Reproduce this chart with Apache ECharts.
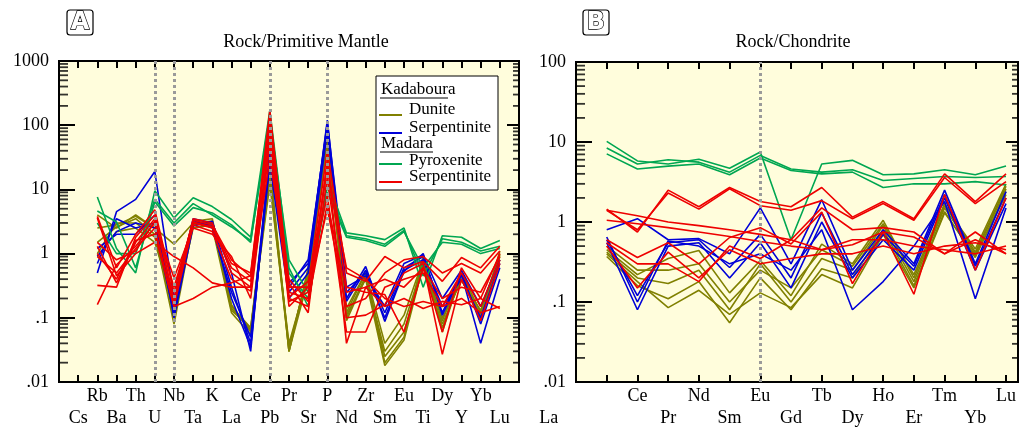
<!DOCTYPE html>
<html><head><meta charset="utf-8">
<script src="https://cdn.jsdelivr.net/npm/echarts@6/dist/echarts.min.js"></script>
<style>html,body{margin:0;padding:0;background:#fff}#c{width:1027px;height:429px}</style>
</head><body><div id="c"></div>
<script>
// ---------- categories & tick labels ----------
const pmElements = ['Cs','Rb','Ba','Th','U','Nb','Ta','K','La','Ce','Pb','Pr','Sr','P','Nd','Zr','Sm','Eu','Ti','Dy','Y','Yb','Lu'];
const reeElements = ['La','Ce','Pr','Nd','Sm','Eu','Gd','Tb','Dy','Ho','Er','Tm','Yb','Lu'];
const pmTickLabels = ['.01','.1','1','10','100','1000'];
const reeTickLabels = ['.01','.1','1','10','100'];
const pmDashed = ['U','Nb','Pb','P'];
const reeDashed = ['Eu'];

// ---------- Panel A: Rock / Primitive Mantle ----------
const pmDunite = [
  [null,4.0,2.5,4.0,2.5,0.10,3.0,3.2,0.15,0.07,20,0.03,0.6,60,0.12,0.5,0.04,0.11,0.8,0.09,0.5,0.12,1.0],
  [null,1.5,2.6,3.5,2.0,0.08,2.8,3.0,0.14,0.065,18,0.035,0.5,55,0.10,0.45,0.03,0.08,0.7,0.07,0.45,0.10,0.9],
  [null,1.0,3.0,3.0,1.8,0.12,2.5,2.8,0.16,0.06,15,0.03,0.4,50,0.09,0.42,0.025,0.06,0.6,0.08,0.4,0.11,0.8],
  [null,0.9,2.2,2.5,1.5,0.15,3.2,3.5,0.13,0.07,12,0.04,0.45,45,0.14,0.5,0.02,0.05,0.9,0.06,0.5,0.09,1.1],
  [null,2.5,2.8,3.8,2.5,1.4,3.0,2.6,0.12,0.055,25,0.03,0.55,65,0.11,0.4,0.018,0.045,0.65,0.1,0.38,0.13,0.95]
];
const pmKadSerp = [
  [null,0.5,4.5,7.0,19,0.2,3.5,3.0,0.5,0.03,40,0.25,0.6,120,0.2,0.63,0.088,0.53,1.0,0.11,0.47,0.04,0.4],
  [null,0.7,3.5,2.5,3.0,0.15,3.0,2.8,0.2,0.035,30,0.3,0.8,100,0.18,0.55,0.12,0.6,0.9,0.12,0.5,0.08,0.6],
  [null,1.2,2.0,2.0,4.0,0.1,2.7,3.2,0.3,0.04,25,0.2,0.5,80,0.25,0.5,0.1,0.55,0.8,0.15,0.4,0.1,0.7],
  [null,0.9,2.2,3.0,2.5,0.12,3.3,2.5,0.25,0.05,35,0.35,0.7,110,0.3,0.45,0.15,0.7,0.95,0.2,0.55,0.15,0.8]
];
const pmPyroxenite = [
  [null,7.6,1.2,0.5,9.5,3.6,7.4,5.4,3.4,1.8,170,0.6,0.15,14,2.1,1.9,1.65,2.5,0.3,1.9,1.8,1.2,1.6],
  [null,4.6,3.1,0.6,6.4,2.7,5.2,4.3,2.8,1.5,150,0.5,0.2,11,1.9,1.7,1.4,2.3,0.45,1.7,1.5,1.1,1.3],
  [null,3.0,1.0,1.0,7.0,3.0,6.0,4.0,2.6,1.6,120,0.8,0.25,9,1.8,1.6,1.3,2.2,0.6,1.5,1.4,1.0,1.2]
];
const pmMadSerp = [
  [null,3.8,0.6,2.0,4.8,0.25,3.3,2.8,0.8,0.44,170,0.3,0.3,40,0.5,0.37,0.9,0.6,0.75,0.37,0.87,0.6,1.3],
  [null,1.3,0.35,1.5,3.5,0.2,3.0,2.5,0.6,0.37,120,0.25,0.2,25,0.3,0.25,0.23,0.06,0.6,0.06,0.6,0.2,1.0],
  [null,0.9,0.5,1.2,2.5,0.15,2.8,2.2,0.4,0.26,80,0.2,0.15,15,0.1,0.11,0.16,0.5,0.7,0.027,0.4,0.09,0.7],
  [null,0.32,0.3,1.8,4.0,0.17,3.5,3.0,0.5,0.3,60,0.21,0.37,8,0.06,0.06,0.3,0.4,0.5,0.15,0.5,0.15,0.8],
  [null,0.16,0.67,1.3,3.0,0.42,2.5,2.0,0.9,0.2,50,0.18,0.25,5,0.15,0.2,0.5,0.8,0.9,0.5,0.7,0.5,1.1],
  [null,3.6,0.45,1.0,1.5,0.9,0.6,0.35,0.3,0.3,30,0.4,0.18,6,0.25,0.3,0.15,0.2,0.14,0.18,0.16,0.2,0.14],
  [null,1.0,0.4,1.6,2.0,0.15,0.2,0.3,0.35,0.45,100,0.15,0.3,20,0.6,0.4,0.2,0.15,0.18,0.15,0.2,0.12,0.15],
  [null,1.5,0.8,1.1,3.2,0.3,3.1,2.6,0.7,0.5,140,0.35,0.12,30,0.04,0.3,0.4,0.3,0.6,0.2,0.3,0.25,0.9]
];

// ---------- Panel B: Rock / Chondrite ----------
const reeDunite = [
  [0.45,0.22,0.35,0.44,0.13,0.33,0.12,0.53,0.3,1.05,0.2,1.6,0.46,3.0],
  [0.42,0.2,0.17,0.25,0.08,0.3,0.1,0.35,0.25,0.9,0.18,1.5,0.4,2.6],
  [0.37,0.16,0.11,0.18,0.055,0.2,0.08,0.26,0.2,0.8,0.16,1.35,0.36,2.4],
  [0.4,0.18,0.085,0.14,0.07,0.13,0.085,0.22,0.15,0.7,0.15,1.3,0.38,2.2],
  [0.5,0.25,0.25,0.3,0.1,0.25,0.15,0.45,0.28,0.95,0.22,1.7,0.42,2.8]
];
const reeKadSerp = [
  [0.8,1.1,0.6,0.62,0.4,1.5,0.3,1.9,0.25,0.8,0.3,2.5,0.3,2.4],
  [0.6,0.12,0.55,0.6,0.27,0.7,0.2,1.3,0.22,0.7,0.28,2.2,0.28,2.0],
  [0.55,0.08,0.5,0.55,0.2,0.55,0.15,1.0,0.2,0.6,0.25,2.0,0.25,1.7],
  [0.65,0.1,0.58,0.5,0.3,0.4,0.25,0.8,0.08,0.18,0.5,1.8,0.11,1.5]
];
const reePyroxenite = [
  [10.2,5.8,5.3,6.1,4.7,7.5,0.6,5.3,5.9,3.9,4.0,4.5,3.9,5.0],
  [8.4,5.3,6.0,5.6,4.2,6.8,4.6,4.2,4.5,3.3,3.5,3.7,3.6,3.7],
  [7.1,4.6,5.0,5.3,3.9,6.3,4.4,4.0,4.2,2.7,3.0,3.0,3.2,2.9]
];
const reeMadSerp = [
  [1.45,0.75,2.5,1.55,2.7,1.8,1.55,2.7,1.15,1.8,1.1,4.0,1.8,4.0],
  [1.4,0.8,2.3,1.45,2.6,1.6,1.4,1.85,1.1,1.7,1.05,3.6,1.7,3.2],
  [1.4,1.2,1.0,0.9,0.8,0.7,0.6,1.5,0.8,0.85,0.75,0.4,0.75,0.4],
  [1.05,0.95,0.85,0.75,0.66,0.57,0.5,0.45,0.52,0.75,0.65,0.4,0.6,0.4],
  [0.6,0.36,0.55,0.3,0.64,0.85,0.53,1.33,0.17,0.75,0.125,2.2,0.25,2.0],
  [0.5,0.15,0.42,0.2,0.45,0.3,0.35,0.4,0.4,0.5,0.4,0.5,0.55,0.45],
  [0.55,0.3,0.3,0.18,0.5,0.35,0.6,0.45,0.6,0.6,0.5,0.45,0.4,0.5]
];

// ---------- styling ----------
const C = {dunite:'#808000', kad:'#0000d8', pyx:'#00a651', mad:'#ee0000'};
const BG = '#fffddc';
const SERIF = '"Liberation Serif","DejaVu Serif",serif';
const X_MAX = [23, 13.39];

const chart = echarts.init(document.getElementById('c'), null, {renderer:'canvas'});

function lines(rows, color, g, z){
  return rows.map(r => ({
    type:'line', xAxisIndex:g*2, yAxisIndex:g*2, symbol:'none', silent:true, animation:false, z:z,
    lineStyle:{color:color, width:1.6},
    data: r.map((v,i) => v == null ? null : [i, v]).filter(Boolean)
  }));
}
function minorValues(lo, hi){
  const out = [];
  for (let k = lo; k < hi; k++) for (let m = 2; m <= 9; m++) out.push(+(m*Math.pow(10,k)).toPrecision(3));
  return out;
}
function minorSeries(g, lo, hi){
  const vals = minorValues(lo, hi);
  const base = {type:'scatter', xAxisIndex:g*2, yAxisIndex:g*2, silent:true, animation:false, z:6,
    symbol:'rect', itemStyle:{color:'#000'}, clip:false};
  return [
    Object.assign({}, base, {symbolSize:[9,1.8], symbolOffset:[4.5,0], data: vals.map(v => [-1, v])}),
    Object.assign({}, base, {symbolSize:[6,1.8], symbolOffset:[-3,0], data: vals.map(v => [X_MAX[g], v])})
  ];
}
function dashSeries(g, names, cats){
  return {
    type:'line', xAxisIndex:g*2, yAxisIndex:g*2, data:[], silent:true, animation:false, z:1,
    markLine:{symbol:['none','none'], silent:true, animation:false, label:{show:false},
      lineStyle:{color:'#9a9a9a', width:3, type:[3,3]},
      data: names.map(n => ({xAxis: cats.indexOf(n)}))}
  };
}
function xAx(grid, pos, cats, max, labels, specialFirst){
  return {
    type:'value', gridIndex:grid, position:pos, min:-1, max:max, interval:1,
    axisLine:{show:false, onZero:false}, splitLine:{show:false},
    axisTick:{show:true, inside:true, length:7, lineStyle:{color:'#000', width:2}},
    axisLabel:{show:labels, margin:3, color:'#000', fontFamily:SERIF, fontSize:18, lineHeight:22,
      showMinLabel:true, showMaxLabel:true,
      formatter: function(v){
        const i = Math.round(v);
        if (Math.abs(v - i) > 1e-6 || i < 0 || i >= cats.length) return '';
        if (i % 2 === 1) return cats[i];
        if (specialFirst && i === 0) return '\n{shift|' + cats[i] + '}';
        return '\n' + cats[i];
      },
      rich:{shift:{fontFamily:SERIF, fontSize:18, lineHeight:22, color:'#000', padding:[0,116,0,0]}}
    }
  };
}
function yAx(grid, pos, lo, hi, tickLabels, labels){
  return {
    type:'log', logBase:10, gridIndex:grid, position:pos, min:Math.pow(10,lo), max:Math.pow(10,hi),
    axisLine:{show:false, onZero:false}, splitLine:{show:false}, minorTick:{show:false},
    axisTick:{show:true, inside:true, length: pos === 'left' ? 16 : 12, lineStyle:{color:'#000', width:2}},
    axisLabel:{show:labels, margin:10, color:'#000', fontFamily:SERIF, fontSize:18,
      formatter: function(v){
        const k = Math.round(Math.log10(v)) - lo;
        return tickLabels[k] !== undefined ? tickLabels[k] : '';
      }
    }
  };
}

const legendItems = [
  {y:115, color:C.dunite, text:'Dunite', ty:110},
  {y:133, color:C.kad, text:'Serpentinite', ty:128},
  {y:164, color:C.pyx, text:'Pyroxenite', ty:161},
  {y:182, color:C.mad, text:'Serpentinite', ty:177}
];
const graphics = [
  {type:'text', x:306, y:42, style:{text:'Rock/Primitive Mantle', font:'18px '+SERIF, fill:'#000', align:'center', verticalAlign:'middle'}},
  {type:'text', x:793, y:42, style:{text:'Rock/Chondrite', font:'18px '+SERIF, fill:'#000', align:'center', verticalAlign:'middle'}},
  {type:'rect', shape:{x:67, y:10, width:26, height:25, r:3}, style:{fill:'none', stroke:'#000', lineWidth:1.2}},
  {type:'text', x:80, y:23, style:{text:'A', font:'bold 24px "DejaVu Sans",sans-serif', fill:'#fff', stroke:'#000', lineWidth:1.3, align:'center', verticalAlign:'middle'}},
  {type:'rect', shape:{x:583, y:10, width:26, height:25, r:3}, style:{fill:'none', stroke:'#000', lineWidth:1.2}},
  {type:'text', x:596, y:23, style:{text:'B', font:'bold 24px "DejaVu Sans",sans-serif', fill:'#fff', stroke:'#000', lineWidth:1.3, align:'center', verticalAlign:'middle'}},
  {type:'rect', z:50, shape:{x:376, y:76, width:122, height:114}, style:{fill:'#fff', stroke:'#000', lineWidth:1}},
  {type:'text', z:51, x:381, y:90, style:{text:'Kadaboura', font:'17px '+SERIF, fill:'#000', verticalAlign:'middle'}},
  {type:'line', z:51, shape:{x1:380, y1:98, x2:448, y2:98}, style:{stroke:'#000', lineWidth:1}},
  {type:'text', z:51, x:381, y:144, style:{text:'Madara', font:'17px '+SERIF, fill:'#000', verticalAlign:'middle'}},
  {type:'line', z:51, shape:{x1:380, y1:152, x2:433, y2:152}, style:{stroke:'#000', lineWidth:1}}
];
legendItems.forEach(it => {
  graphics.push({type:'line', z:51, shape:{x1:379, y1:it.y, x2:402, y2:it.y}, style:{stroke:it.color, lineWidth:2}});
  graphics.push({type:'text', z:51, x:409, y:it.ty, style:{text:it.text, font:'17px '+SERIF, fill:'#000', verticalAlign:'middle'}});
});

const series = [].concat(
  dashSeries(0, pmDashed, pmElements),
  lines(pmDunite, C.dunite, 0, 2),
  lines(pmKadSerp, C.kad, 0, 3),
  lines(pmPyroxenite, C.pyx, 0, 3),
  lines(pmMadSerp, C.mad, 0, 4),
  minorSeries(0, -2, 3),
  dashSeries(1, reeDashed, reeElements),
  lines(reeDunite, C.dunite, 1, 2),
  lines(reeKadSerp, C.kad, 1, 3),
  lines(reePyroxenite, C.pyx, 1, 3),
  lines(reeMadSerp, C.mad, 1, 4),
  minorSeries(1, -2, 2)
);

chart.setOption({
  animation:false,
  backgroundColor:'#fff',
  grid:[
    {left:59, top:61, width:460, height:323, show:true, backgroundColor:BG, borderColor:'#000', borderWidth:2},
    {left:576, top:62, width:442, height:320, show:true, backgroundColor:BG, borderColor:'#000', borderWidth:2}
  ],
  xAxis:[
    xAx(0,'bottom',pmElements,X_MAX[0],true,false),
    xAx(0,'top',pmElements,X_MAX[0],false,false),
    xAx(1,'bottom',reeElements,X_MAX[1],true,true),
    xAx(1,'top',reeElements,X_MAX[1],false,false)
  ],
  yAxis:[
    yAx(0,'left',-2,3,pmTickLabels,true),
    yAx(0,'right',-2,3,pmTickLabels,false),
    yAx(1,'left',-2,2,reeTickLabels,true),
    yAx(1,'right',-2,2,reeTickLabels,false)
  ],
  graphic:graphics,
  series:series
});
</script>
</body></html>
